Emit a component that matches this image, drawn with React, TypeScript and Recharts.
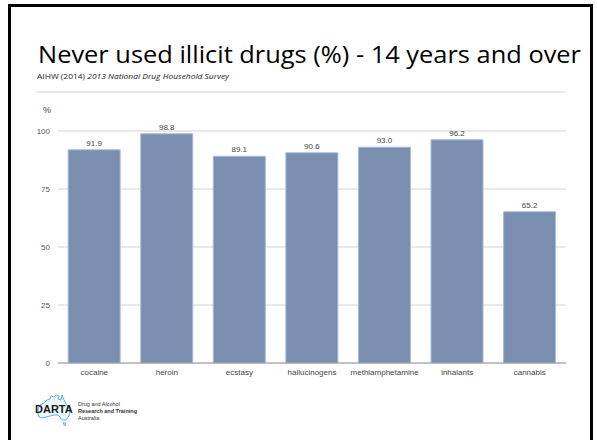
import { Bar, BarChart, CartesianGrid, LabelList, XAxis, YAxis } from "recharts";

const drugs = [
  "cocaine",
  "heroin",
  "ecstasy",
  "hallucinogens",
  "methlamphetamine",
  "inhalants",
  "cannabis",
];
const neverUsed = [91.9, 98.8, 89.1, 90.6, 93.0, 96.2, 65.2];
const yTicks = [0, 25, 50, 75, 100];

const data = drugs.map((name, i) => ({ name, value: neverUsed[i] }));

const sans = "'Liberation Sans', Arial, sans-serif";

function Logo() {
  return (
    <svg width={160} height={45} style={{ position: "absolute", left: 0, top: 390 }}>
      {/* rough outline of the continent behind the wordmark */}
      <g transform="translate(38,5)" fill="#eef7fc" stroke="#5db4e0" strokeWidth={1} strokeLinejoin="round">
        <path d="M0 14 L2 10 L6 8 L9 5 L12 4 L13 1 L16 2 L18 0 L21 1 L20 4 L23 5 L24 0 L26 5 L28 9 L31 13 L32 17 L31 21 L28 25 L24 25 L22 22 L20 20 L16 20 L12 21 L8 22 L4 23 L1 22 L0 19 Z" />
        <path d="M25 28 L28 28 L27 31 Z" />
      </g>
      <text x={35} y={23} fontFamily={sans} fontWeight="bold" fontSize={11} fill="#1a1a1a">
        DARTA
      </text>
      <g fontFamily={sans} fontSize={5.5} fill="#333">
        <text x={78} y={16}>Drug and Alcohol</text>
        <text x={78} y={23} fontWeight="bold">
          Research and Training
        </text>
        <text x={78} y={29.5}>Australia</text>
      </g>
    </svg>
  );
}

export default function App() {
  return (
    <div style={{ position: "relative", width: 597, height: 440, overflow: "hidden", background: "#fff" }}>
      <style>{`body{margin:0}`}</style>
      <div
        style={{
          position: "absolute",
          left: 8,
          top: 4,
          width: 585,
          height: 460,
          border: "3px solid #000",
          boxSizing: "border-box",
        }}
      />
      <svg width={597} height={100} style={{ position: "absolute", left: 0, top: 0 }}>
        <text
          x={38}
          y={63}
          fontFamily="'Open Sans', sans-serif"
          fontSize={23}
          fill="#000"
          textLength={543}
          lengthAdjust="spacingAndGlyphs"
        >
          Never used illicit drugs (%) - 14 years and over
        </text>
        <text x={37} y={79} fontFamily="'Open Sans', sans-serif" fontSize={6.5} fill="#222" textLength={192} lengthAdjust="spacingAndGlyphs">
          AIHW (2014) <tspan fontStyle="italic">2013 National Drug Household Survey</tspan>
        </text>
        <line x1={36} x2={565} y1={92} y2={92} stroke="#d0d0d0" strokeWidth={1} />
      </svg>
      <div
        style={{
          position: "absolute",
          left: 43,
          top: 105,
          fontFamily: sans,
          fontSize: 9,
          color: "#444",
        }}
      >
        %
      </div>
      <div style={{ position: "absolute", left: 0, top: 0 }}>
        <BarChart
          width={597}
          height={440}
          data={data}
          margin={{ top: 131, right: 31, bottom: 47, left: 38 }}
          barCategoryGap="14%"
        >
          <CartesianGrid vertical={false} stroke="#d2d2d2" />
          <XAxis
            dataKey="name"
            height={30}
            tickLine={false}
            tickSize={0}
            tickMargin={6}
            axisLine={{ stroke: "#9a9a9a" }}
            interval={0}
            tick={{ fontFamily: sans, fontSize: 8, fill: "#444" }}
          />
          <YAxis
            width={20}
            domain={[0, 100]}
            ticks={yTicks}
            axisLine={false}
            tickLine={false}
            tick={{ fontFamily: sans, fontSize: 8, fill: "#555" }}
          />
          <Bar dataKey="value" fill="#7a8fb0" stroke="#a6bbdd" strokeWidth={1} isAnimationActive={false}>
            <LabelList
              dataKey="value"
              position="top"
              offset={4}
              formatter={(v: number) => v.toFixed(1)}
              style={{ fontFamily: sans, fontSize: 8, fill: "#444" }}
            />
          </Bar>
        </BarChart>
      </div>
      <Logo />
    </div>
  );
}
